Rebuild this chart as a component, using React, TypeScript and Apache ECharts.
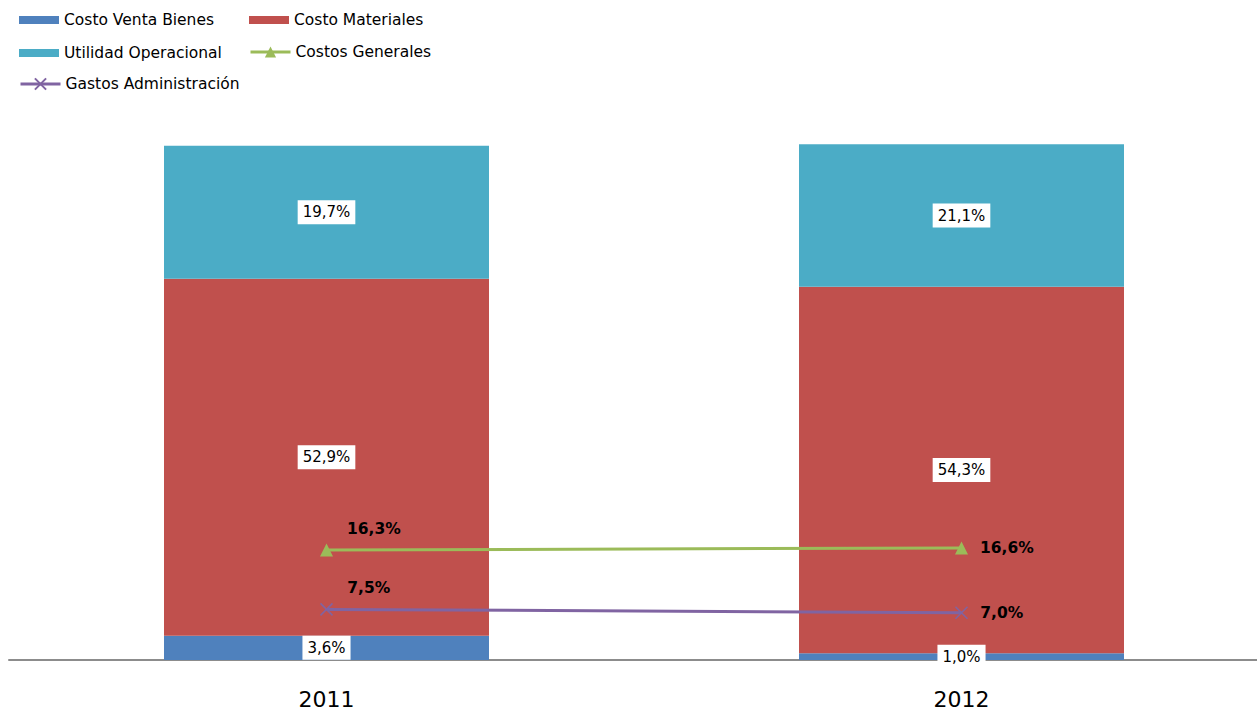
import React, { useEffect, useRef } from "react";
import * as echarts from "echarts";

const categories = ["2011", "2012"];
const costoVentaBienes = [3.6, 1.0];
const costoMateriales = [52.9, 54.3];
const utilidadOperacional = [19.7, 21.1];
const costosGenerales = [16.3, 16.6];
const gastosAdministracion = [7.5, 7.0];

const FONT = "DejaVu Sans";
const fmt = (v: number) => v.toFixed(1).replace(".", ",") + "%";

export default function App() {
  const ref = useRef<HTMLDivElement>(null);
  useEffect(() => {
    if (!ref.current) return;
    const chart = echarts.init(ref.current, undefined, { renderer: "svg" });
    const barLabel = {
      show: true,
      position: "inside",
      formatter: (p: any) => fmt(p.value),
      color: "#000",
      fontFamily: FONT,
      fontSize: 15,
      backgroundColor: "#fff",
      padding: [5, 5, 4, 5],
    };
    const lineLabels = (vals: number[]) =>
      vals.map((v, i) => ({
        value: v,
        label: {
          show: true,
          position: "right",
          distance: 5,
          offset: i === 0 ? [9, -21] : [7, 0],
          formatter: (p: any) => fmt(p.value),
          color: "#000",
          fontFamily: FONT,
          fontSize: 15.5,
          fontWeight: "bold",
        },
      }));
    const legendBase = {
      padding: 0,
      itemWidth: 40,
      itemHeight: 8,
      itemGap: 4,
      textStyle: { fontFamily: FONT, fontSize: 15.5, color: "#000" },
    };
    const lineLegend = { ...legendBase, itemHeight: 14, lineStyle: { width: 3 } };
    chart.setOption({
      animation: false,
      textStyle: { fontFamily: FONT },
      legend: [
        { ...legendBase, icon: "rect", left: 19, top: 12, data: ["Costo Venta Bienes"] },
        { ...legendBase, icon: "rect", left: 249, top: 12, data: ["Costo Materiales"] },
        { ...legendBase, icon: "rect", left: 19, top: 45, data: ["Utilidad Operacional"] },
        { ...lineLegend, left: 249, top: 44, data: ["Costos Generales"] },
        { ...lineLegend, left: 19, top: 76, data: ["Gastos Administración"] },
      ],
      grid: {
        left: 9,
        top: 120,
        width: 1270,
        height: 540,
        containLabel: false,
        outerBoundsMode: "none",
      },
      xAxis: {
        type: "category",
        data: categories,
        axisLine: { show: true, lineStyle: { color: "#8c8c8c", width: 2 } },
        axisTick: { show: false },
        axisLabel: { fontFamily: FONT, fontSize: 22, color: "#000", margin: 28 },
      },
      yAxis: {
        type: "value",
        min: 0,
        max: 80,
        show: false,
        splitLine: { show: false },
      },
      series: [
        {
          name: "Costo Venta Bienes",
          type: "bar",
          stack: "total",
          barWidth: 325,
          data: costoVentaBienes,
          itemStyle: { color: "#4F81BD" },
          label: barLabel,
        },
        {
          name: "Costo Materiales",
          type: "bar",
          stack: "total",
          barWidth: 325,
          data: costoMateriales,
          itemStyle: { color: "#C0504D" },
          label: barLabel,
        },
        {
          name: "Utilidad Operacional",
          type: "bar",
          stack: "total",
          barWidth: 325,
          data: utilidadOperacional,
          itemStyle: { color: "#4BACC6" },
          label: barLabel,
        },
        {
          name: "Costos Generales",
          type: "line",
          data: lineLabels(costosGenerales),
          symbol: "triangle",
          symbolSize: 13,
          showAllSymbol: true,
          lineStyle: { color: "#9BBB59", width: 3 },
          itemStyle: { color: "#9BBB59" },
          z: 5,
        },
        {
          name: "Gastos Administración",
          type: "line",
          data: lineLabels(gastosAdministracion),
          symbol: "path://M0,0L10,10M10,0L0,10",
          symbolSize: 12,
          showAllSymbol: true,
          lineStyle: { color: "#8064A2", width: 3 },
          itemStyle: { color: "#8064A2", borderColor: "#8064A2", borderWidth: 1.5 },
          z: 5,
        },
      ],
    });
    return () => chart.dispose();
  }, []);
  return (
    <div
      ref={ref}
      style={{ position: "fixed", left: 0, top: 0, width: 1257, height: 713, background: "#fff" }}
    />
  );
}
